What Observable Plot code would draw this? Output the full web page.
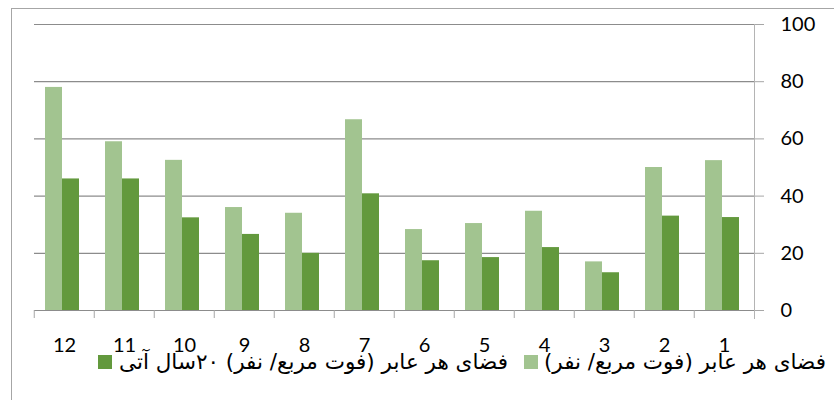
<!DOCTYPE html>
<html><head><meta charset="utf-8">
<script src="https://cdn.jsdelivr.net/npm/d3@7"></script>
<script src="https://cdn.jsdelivr.net/npm/@observablehq/plot@0.6"></script>
<style>
body{margin:0;background:#fff;}
#wrap{position:relative;width:834px;height:400px;overflow:hidden;font-family:Lato,sans-serif;}
#border{position:absolute;left:11px;top:8px;width:900px;height:500px;border-top:1.5px solid #a6a6a6;border-left:1.5px solid #a6a6a6;pointer-events:none;}
#legend{position:absolute;top:350px;right:8px;display:flex;direction:rtl;align-items:center;font-family:"DejaVu Sans",sans-serif;font-size:21.5px;line-height:24px;color:#000;white-space:nowrap;}
#legend .sw{width:14px;height:14px;display:inline-block;}
</style></head>
<body>
<div id="wrap"><div id="border"></div><div id="chart"></div><div id="legend"></div></div>
<script>
const categories = ["12","11","10","9","8","7","6","5","4","3","2","1"];
const seriesKeys = ["now","future"];
const seriesNames = ["فضای هر عابر (فوت مربع/ نفر)", "فضای هر عابر (فوت مربع/ نفر) ۲۰سال آتی"];
const seriesColors = ["#a2c490", "#63993d"];
const currentValues = [78, 59, 52.5, 36, 34, 66.7, 28.3, 30.4, 34.7, 17, 50, 52.4];
const futureValues  = [46, 46, 32.4, 26.6, 20, 40.8, 17.4, 18.5, 22, 13.2, 33, 32.5];
const yTicks = [0, 20, 40, 60, 80, 100];

const rows = categories.flatMap((c, i) => [
  {cat: c, s: seriesKeys[0], v: currentValues[i]},
  {cat: c, s: seriesKeys[1], v: futureValues[i]}
]);

const W = 834, mL = 31, mR = 77;
const step = (W - mL - mR) / categories.length;

const chart = Plot.plot({
  width: W, height: 400,
  marginLeft: mL, marginRight: mR, marginTop: 24, marginBottom: 90,
  style: {fontFamily: "Lato, sans-serif", fontSize: "20px", color: "#000", background: "transparent", overflow: "visible"},
  fx: {domain: categories, padding: 0, label: null, axis: null},
  x: {domain: seriesKeys, paddingInner: 0, paddingOuter: 0.75, align: 0.44, axis: null},
  y: {domain: [0, 100], axis: null},
  color: {domain: seriesKeys, range: seriesColors},
  marks: [
    Plot.gridY(yTicks, {stroke: "#8c8c8c", strokeOpacity: 1, strokeWidth: 1.2}),
    Plot.barY(rows, {fx: "cat", x: "s", y: "v", fill: "s"}),
    Plot.axisY(yTicks, {anchor: "right", tickSize: 9, tickPadding: 17, stroke: "#a6a6a6", fontSize: 20, textAnchor: "start", label: null}),
    Plot.axisFx({anchor: "bottom", tickSize: 0, tickPadding: 27, fontSize: 20, label: null}),
    Plot.axisFx({anchor: "bottom", tickSize: 8, tickFormat: () => "", dx: -step / 2, stroke: "#a6a6a6", label: null}),
    Plot.frame({anchor: "right", facet: "super", stroke: "#b4b4b4", insetBottom: -8})
  ]
});
document.getElementById("chart").appendChild(chart);

const legend = document.getElementById("legend");
seriesNames.forEach((name, i) => {
  const t = document.createElement("span");
  t.textContent = name;
  t.dir = "rtl";
  const sw = document.createElement("span");
  sw.className = "sw";
  sw.style.background = seriesColors[i];
  sw.style.margin = i === 0 ? "0 6px 0 16px" : "0 7px 0 0";
  legend.appendChild(t);
  legend.appendChild(sw);
});
</script>
</body></html>
